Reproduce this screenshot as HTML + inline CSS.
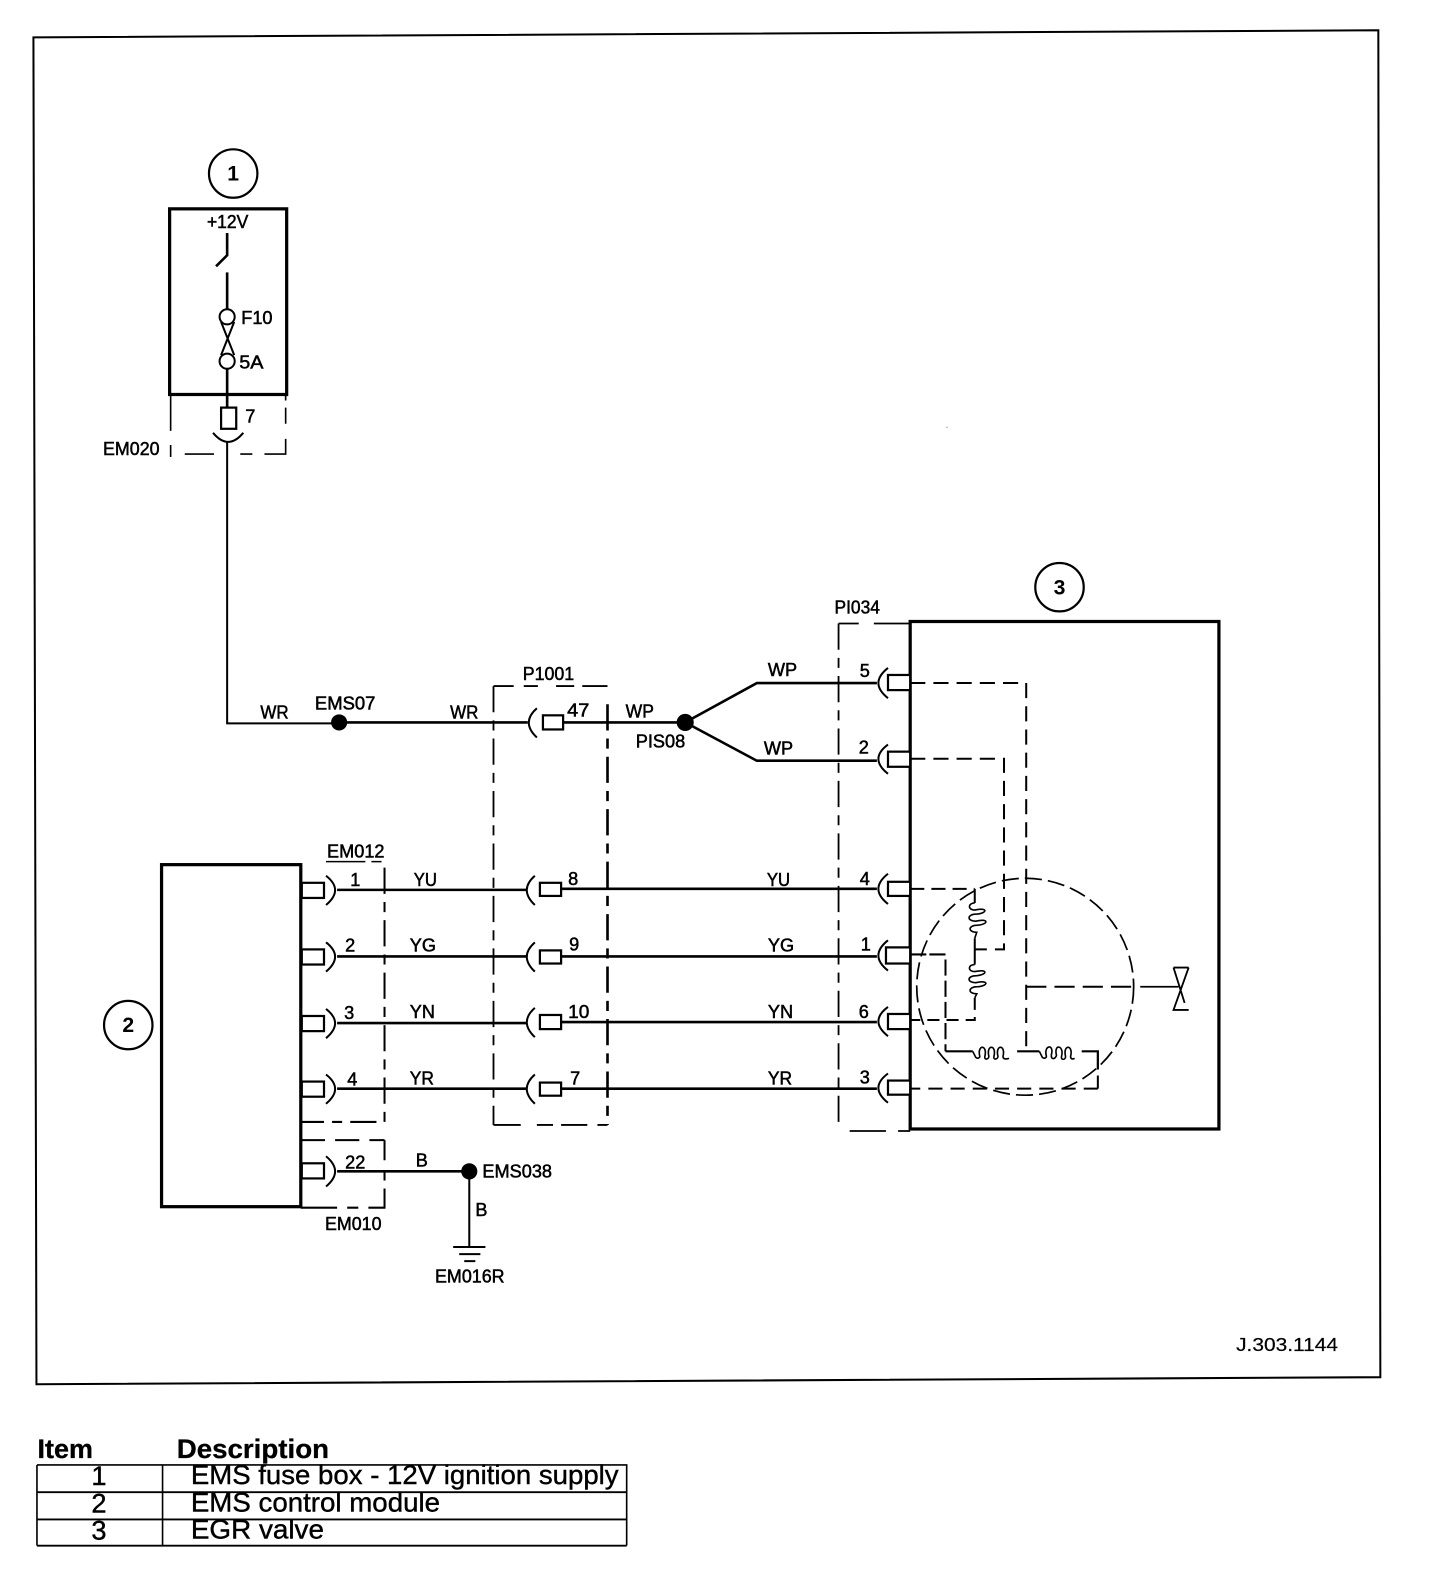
<!DOCTYPE html>
<html>
<head>
<meta charset="utf-8">
<title>EMS wiring diagram</title>
<style>
html,body{margin:0;padding:0;background:#fff}
svg{display:block}
text{font-family:"Liberation Sans",sans-serif;fill:#000}
.s{font-size:18px;stroke:#000;stroke-width:.5}
.t{font-size:27px;stroke:#000;stroke-width:.4}
.b{font-size:27px;font-weight:bold;stroke:#000;stroke-width:.3}
.n{font-size:21px;font-weight:bold}
.l{fill:none;stroke:#000;stroke-width:1.6}
.w{fill:none;stroke:#000;stroke-width:2.6}
.h{fill:none;stroke:#000;stroke-width:3.2}
.d{fill:none;stroke:#000;stroke-width:1.8;stroke-dasharray:26 8 10 8}
.e{fill:none;stroke:#000;stroke-width:2;stroke-dasharray:15 8}
.r{fill:#fff;stroke:#000;stroke-width:2.2}
</style>
</head>
<body>
<svg xmlns="http://www.w3.org/2000/svg" width="1440" height="1582" viewBox="0 0 1427 1568">
<rect width="1427" height="1568" fill="#fff"/>

<!-- outer frame -->
<path class="w" d="M33 37 L1366 30 L1368 1365 L36 1372 Z" style="stroke-width:2"/>

<!-- callouts -->
<circle class="l" style="stroke-width:2.2" cx="231" cy="172" r="24"/>
<text class="n" x="231" y="179" text-anchor="middle">1</text>
<circle class="l" style="stroke-width:2.2" cx="127" cy="1016" r="24"/>
<text class="n" x="127" y="1023" text-anchor="middle">2</text>
<circle class="l" style="stroke-width:2.2" cx="1050" cy="582" r="24"/>
<text class="n" x="1050" y="589" text-anchor="middle">3</text>

<!-- fuse box -->
<rect class="h" x="168" y="207" width="116" height="184"/>
<text class="s" x="205" y="226" textLength="41" lengthAdjust="spacingAndGlyphs">+12V</text>
<path class="w" d="M225 231 V253 L214 264"/>
<path class="w" d="M225 270 V306"/>
<circle class="l" style="stroke-width:2" cx="225" cy="314" r="7.5"/>
<circle class="l" style="stroke-width:2" cx="225" cy="358" r="7.5"/>
<path class="l" style="stroke-width:2" d="M219 319 L232 352 M232 319 L219 352"/>
<text class="s" x="239" y="321" textLength="31" lengthAdjust="spacingAndGlyphs">F10</text>
<text class="s" x="237" y="365" textLength="24" lengthAdjust="spacingAndGlyphs">5A</text>
<path class="w" d="M225 366 V403"/>
<rect class="r" x="219" y="404" width="15" height="21"/>
<text class="s" x="243" y="419">7</text>
<path class="l" style="stroke-width:2" d="M211 429 Q226 447 241 429"/>
<text class="s" x="102" y="451" textLength="56" lengthAdjust="spacingAndGlyphs">EM020</text>
<path class="l" d="M169 391 V427 M169 441 V453 M183 450 H212 M238 450 H250 M262 450 H283 V435 M283 420 V404 M283 397 V391"/>

<!-- main wire from fuse -->
<path class="l" style="stroke-width:2" d="M225 438 V717 H330"/>
<path class="w" d="M330 716 H523"/>
<circle cx="336" cy="716" r="8"/>
<text class="s" x="258" y="712" textLength="28" lengthAdjust="spacingAndGlyphs">WR</text>
<text class="s" x="312" y="703" textLength="60" lengthAdjust="spacingAndGlyphs">EMS07</text>
<text class="s" x="446" y="712" textLength="28" lengthAdjust="spacingAndGlyphs">WR</text>

<!-- P1001 -->
<text class="s" x="518" y="674" textLength="51" lengthAdjust="spacingAndGlyphs">P1001</text>
<path class="l" style="stroke-width:1.8" d="M489 680 H509 M519 680 H533 M551 680 H569 M577 680 H602"/>
<path class="d" d="M489 680 V1115"/>
<path class="d" style="stroke-width:2.6" d="M602 698 V1115"/>
<path class="l" style="stroke-width:1.8" d="M489 1115 H516 M532 1115 H548 M556 1115 H582 M592 1115 H602"/>
<path class="l" style="stroke-width:2" d="M532 702 Q516 716 532 731"/>
<rect class="r" x="538" y="709" width="20" height="14"/>
<text class="s" x="562" y="710" textLength="22" lengthAdjust="spacingAndGlyphs">47</text>
<path class="w" d="M558 716 H675"/>
<text class="s" x="620" y="711" textLength="28" lengthAdjust="spacingAndGlyphs">WP</text>
<circle cx="679" cy="716" r="8.5"/>
<text class="s" x="630" y="741" textLength="49" lengthAdjust="spacingAndGlyphs">PIS08</text>
<path class="w" d="M679 716 L750 677 H869"/>
<path class="w" d="M679 716 L750 754 H869"/>
<text class="s" x="761" y="670" textLength="29" lengthAdjust="spacingAndGlyphs">WP</text>
<text class="s" x="757" y="748" textLength="29" lengthAdjust="spacingAndGlyphs">WP</text>

<!-- module 2 -->
<rect class="h" x="160" y="857" width="138" height="339"/>
<text class="s" x="324" y="850" textLength="57" lengthAdjust="spacingAndGlyphs">EM012</text>
<path class="l" d="M323 854 H362 M368 854 H378"/>
<path class="l" style="stroke-width:2;stroke-dasharray:26 8 10 8" d="M381 860 V1112 H298"/>
<path class="l" style="stroke-width:2;stroke-dasharray:24 10" d="M298 1130 H381"/>
<path class="l" style="stroke-width:2" d="M381 1130 V1150 M381 1160 V1170 M381 1178 V1197 H365 M355 1197 H344 M334 1197 H298"/>
<text class="s" x="322" y="1219" textLength="56" lengthAdjust="spacingAndGlyphs">EM010</text>

<!-- rows -->
<g>
<rect class="r" x="299" y="875" width="22" height="15"/>
<path class="l" style="stroke-width:2" d="M323 868 Q341 882 323 897"/>
<path class="w" d="M334 882 H522 M556 881 H869"/>
<text class="s" x="347" y="878">1</text>
<text class="s" x="410" y="878" textLength="23" lengthAdjust="spacingAndGlyphs">YU</text>
<path class="l" style="stroke-width:2" d="M530 868 Q514 882 530 897"/>
<rect class="r" x="535" y="875" width="21" height="13"/>
<text class="s" x="563" y="877" textLength="10" lengthAdjust="spacingAndGlyphs">8</text>
<text class="s" x="760" y="878" textLength="23" lengthAdjust="spacingAndGlyphs">YU</text>
<text class="s" x="852" y="877">4</text>

<rect class="r" x="299" y="941" width="22" height="15"/>
<path class="l" style="stroke-width:2" d="M323 934 Q341 948 323 963"/>
<path class="w" d="M334 948 H522 M556 948 H869"/>
<text class="s" x="342" y="943">2</text>
<text class="s" x="406" y="943" textLength="26" lengthAdjust="spacingAndGlyphs">YG</text>
<path class="l" style="stroke-width:2" d="M530 934 Q514 948 530 963"/>
<rect class="r" x="535" y="942" width="21" height="13"/>
<text class="s" x="564" y="942" textLength="10" lengthAdjust="spacingAndGlyphs">9</text>
<text class="s" x="761" y="943" textLength="26" lengthAdjust="spacingAndGlyphs">YG</text>
<text class="s" x="853" y="942">1</text>

<rect class="r" x="299" y="1007" width="22" height="15"/>
<path class="l" style="stroke-width:2" d="M323 1000 Q341 1014 323 1029"/>
<path class="w" d="M334 1014 H522 M556 1013 H869"/>
<text class="s" x="341" y="1010">3</text>
<text class="s" x="406" y="1009" textLength="25" lengthAdjust="spacingAndGlyphs">YN</text>
<path class="l" style="stroke-width:2" d="M530 999 Q514 1013 530 1028"/>
<rect class="r" x="535" y="1006" width="21" height="14"/>
<text class="s" x="563" y="1009" textLength="21" lengthAdjust="spacingAndGlyphs">10</text>
<text class="s" x="761" y="1009" textLength="25" lengthAdjust="spacingAndGlyphs">YN</text>
<text class="s" x="851" y="1009">6</text>

<rect class="r" x="299" y="1072" width="22" height="15"/>
<path class="l" style="stroke-width:2" d="M323 1065 Q341 1079 323 1094"/>
<path class="w" d="M334 1079 H522 M556 1079 H869"/>
<text class="s" x="344" y="1076">4</text>
<text class="s" x="406" y="1075" textLength="24" lengthAdjust="spacingAndGlyphs">YR</text>
<path class="l" style="stroke-width:2" d="M530 1065 Q514 1079 530 1094"/>
<rect class="r" x="535" y="1073" width="21" height="13"/>
<text class="s" x="565" y="1075" textLength="10" lengthAdjust="spacingAndGlyphs">7</text>
<text class="s" x="761" y="1075" textLength="24" lengthAdjust="spacingAndGlyphs">YR</text>
<text class="s" x="852" y="1074">3</text>

<rect class="r" x="299" y="1153" width="22" height="15"/>
<path class="l" style="stroke-width:2" d="M323 1146 Q341 1161 323 1176"/>
<path class="w" d="M334 1161 H462"/>
<text class="s" x="342" y="1158" textLength="20" lengthAdjust="spacingAndGlyphs">22</text>
<text class="s" x="412" y="1156" textLength="12" lengthAdjust="spacingAndGlyphs">B</text>
<circle cx="465" cy="1161" r="8"/>
<text class="s" x="478" y="1167" textLength="69" lengthAdjust="spacingAndGlyphs">EMS038</text>
<path class="l" style="stroke-width:2" d="M465 1161 V1236"/>
<text class="s" x="471" y="1205" textLength="12" lengthAdjust="spacingAndGlyphs">B</text>
<path class="l" style="stroke-width:2" d="M449 1236 H481 M455 1243 H476 M460 1250 H471"/>
<text class="s" x="431" y="1271" textLength="69" lengthAdjust="spacingAndGlyphs">EM016R</text>
</g>

<!-- PI034 -->
<text class="s" x="827" y="608" textLength="45" lengthAdjust="spacingAndGlyphs">PI034</text>
<path class="d" d="M831 618 V1120"/>
<path class="l" style="stroke-width:1.8" d="M831 618 H851 M866 618 H902 M842 1121 H878 M890 1121 H902"/>

<!-- EGR valve -->
<rect class="h" x="902" y="616" width="306" height="503"/>
<text class="s" x="852" y="671">5</text>
<text class="s" x="851" y="747">2</text>
<g>
<path class="l" style="stroke-width:2" d="M880 662 Q861 677 880 692"/>
<rect class="r" x="880" y="669" width="22" height="15"/>
<path class="l" style="stroke-width:2" d="M880 738 Q861 752 880 767"/>
<rect class="r" x="880" y="745" width="22" height="15"/>
<path class="l" style="stroke-width:2" d="M880 866 Q861 881 880 896"/>
<rect class="r" x="880" y="874" width="22" height="14"/>
<path class="l" style="stroke-width:2" d="M880 932 Q861 947 880 962"/>
<rect class="r" x="878" y="939" width="24" height="16"/>
<path class="l" style="stroke-width:2" d="M880 998 Q861 1012 880 1027"/>
<rect class="r" x="880" y="1005" width="22" height="15"/>
<path class="l" style="stroke-width:2" d="M880 1064 Q861 1078 880 1093"/>
<rect class="r" x="880" y="1071" width="22" height="14"/>
</g>

<!-- internals -->
<circle cx="1016" cy="978" r="107.5" fill="none" stroke="#000" stroke-width="1.7" stroke-dasharray="17 6"/>
<path class="e" d="M902 677 H1017 V1042"/>
<path class="e" d="M902 752 H995 V941 H966"/>
<path class="e" style="stroke-dasharray:14 7" d="M902 881 H966"/>
<path class="w" d="M966 881 V895" style="stroke-width:2"/>
<path class="l" d="M966 895 c-7 0 -7 7 0 7 c13 -3 13 3 2 4 c-10 0 -10 7 -1 7 c13 -3 13 3 2 4 c-10 0 -10 7 -1 7 l-2 6"/>
<path class="w" d="M966 930 V956" style="stroke-width:2"/>
<path class="l" d="M966 956 c-7 0 -7 7 0 7 c13 -3 13 3 2 4 c-10 0 -10 7 -1 7 c13 -3 13 3 2 4 c-10 0 -10 7 -1 7 l-2 4"/>
<path class="e" style="stroke-dasharray:12 7" d="M966 989 V1011 H902"/>
<path class="w" d="M902 946 H918" style="stroke-width:2"/>
<path class="e" style="stroke-dasharray:16 5" d="M921 946 H937 V1042"/>
<path class="l" style="stroke-width:2" d="M937 1042 H964"/>
<path class="l" d="M964 1042 l3 6 c2 2 4 0 4 -1 c-3 -12 8 -12 5 0 c-1 4 4 3 4 0 c-3 -12 8 -12 5 0 c-1 4 4 3 4 0 c-3 -12 8 -12 5 0 c0 3 3 3 6 2"/>
<path class="l" style="stroke-width:2" d="M1008 1042 H1030"/>
<path class="l" d="M1030 1042 l3 6 c2 2 4 0 4 -1 c-3 -12 8 -12 5 -2 c-1 6 4 5 5 1 c-3 -12 8 -10 5 1 c-1 4 4 4 4 0 c-3 -12 8 -12 5 0 c0 3 2 3 4 2"/>
<path class="l" style="stroke-width:2.2" d="M1072 1042 H1088 V1060"/>
<path class="l" style="stroke-width:2" d="M1088 1066 V1079"/>
<path class="e" style="stroke-dasharray:14 8" d="M1088 1079 L902 1079"/>
<path class="e" style="stroke-dasharray:20 8" d="M1017 978 H1124"/>
<path class="l" style="stroke-width:1.8" d="M1130 978 H1168"/>
<path class="l" style="stroke-width:1.8" d="M1163 959 H1178 M1163 959 L1174 994 M1178 959 L1163 1001 H1178"/>

<text class="s" style="stroke-width:.2" x="1225" y="1339" textLength="101" lengthAdjust="spacingAndGlyphs">J.303.1144</text>
<rect x="938" y="423" width="1" height="1" fill="#666"/>

<!-- table -->
<text class="b" x="37" y="1445" textLength="55" lengthAdjust="spacingAndGlyphs">Item</text>
<text class="b" x="175" y="1445" textLength="151" lengthAdjust="spacingAndGlyphs">Description</text>
<path class="l" style="stroke-width:1.6" d="M36.5 1452 H621 V1532 M36.5 1452 V1532 M161 1452 V1532"/>
<path class="l" style="stroke-width:1.8" d="M36.5 1479 H621 M36.5 1506 H621 M36.5 1532 H621"/>
<text class="t" x="98" y="1472" text-anchor="middle">1</text>
<text class="t" x="98" y="1499" text-anchor="middle">2</text>
<text class="t" x="98" y="1526" text-anchor="middle">3</text>
<text class="t" x="189" y="1471" textLength="424" lengthAdjust="spacingAndGlyphs">EMS fuse box - 12V ignition supply</text>
<text class="t" x="189" y="1498" textLength="247" lengthAdjust="spacingAndGlyphs">EMS control module</text>
<text class="t" x="189" y="1525" textLength="132" lengthAdjust="spacingAndGlyphs">EGR valve</text>
</svg>
</body>
</html>
